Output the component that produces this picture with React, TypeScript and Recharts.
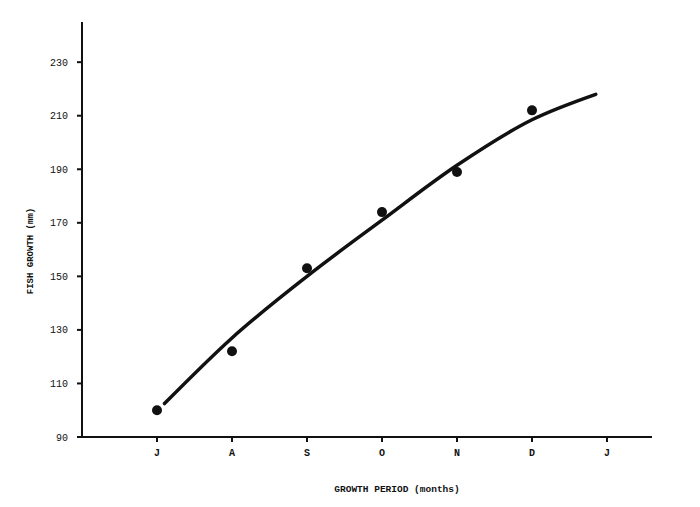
import React from 'react';
import { ComposedChart, Line, Scatter, XAxis, YAxis } from 'recharts';

const months = ['J', 'A', 'S', 'O', 'N', 'D', 'J'];
const monthTicks = [0, 1, 2, 3, 4, 5, 6];
const growthTicks = [90, 110, 130, 150, 170, 190, 210, 230];

// measured fish lengths (mm), one per month
const obsMonth = [0, 1, 2, 3, 4, 5];
const obsGrowth = [100, 122, 153, 174, 189, 212];

// hand-drawn growth curve
const curveMonth = [0.1, 1, 2, 3, 4, 5, 5.85];
const curveGrowth = [102.5, 127, 150, 171, 191.5, 208.5, 218];

const observed = obsMonth.map((m, i) => ({ x: m, y: obsGrowth[i] }));
const curve = curveMonth.map((m, i) => ({ x: m, y: curveGrowth[i] }));

const ink = '#111';
const font = '"Liberation Mono", "DejaVu Sans Mono", monospace';

const Dot = (props: any) => {
    const { cx, cy } = props;
    return <circle cx={cx} cy={cy} r={5} fill={ink} />;
};

const XTitle = (props: any) => {
    const { viewBox } = props;
    return (
        <text x={397} y={viewBox.y + 55} textAnchor="middle" fontFamily={font} fontSize={9.5} fontWeight="bold" fill={ink}>
            GROWTH PERIOD (months)
        </text>
    );
};

const YTitle = () => (
    <text x={31} y={251} transform="rotate(-90, 31, 251)" textAnchor="middle" dominantBaseline="middle" fontFamily={font} fontSize={9} fontWeight="bold" fill={ink}>
        FISH GROWTH (mm)
    </text>
);

const App: React.FC = () => {
    return (
        <div style={{ position: 'absolute', left: 0, top: 0, background: '#fff' }}>
            <ComposedChart width={700} height={507} margin={{ top: 22, right: 48, bottom: 0, left: 0 }}>
                <XAxis
                    type="number"
                    dataKey="x"
                    domain={[-1, 6.6]}
                    ticks={monthTicks}
                    tickFormatter={(v: number) => months[v]}
                    allowDataOverflow
                    height={70}
                    stroke={ink}
                    strokeWidth={2}
                    tickSize={5}
                    tickMargin={7}
                    tick={{ fill: ink, fontFamily: font, fontSize: 10, fontWeight: 'bold' }}
                    label={<XTitle />}
                />
                <YAxis
                    type="number"
                    dataKey="y"
                    domain={[90, 245]}
                    ticks={growthTicks}
                    allowDataOverflow
                    width={82}
                    stroke={ink}
                    strokeWidth={2}
                    tickSize={5}
                    tickMargin={9}
                    tick={{ fill: ink, fontFamily: font, fontSize: 10 }}
                    label={<YTitle />}
                />
                <Line
                    data={curve}
                    dataKey="y"
                    type="monotone"
                    stroke={ink}
                    strokeWidth={3.5}
                    strokeLinecap="round"
                    dot={false}
                    activeDot={false}
                    isAnimationActive={false}
                />
                <Scatter data={observed} dataKey="y" shape={<Dot />} isAnimationActive={false} />
            </ComposedChart>
        </div>
    );
};

export default App;
